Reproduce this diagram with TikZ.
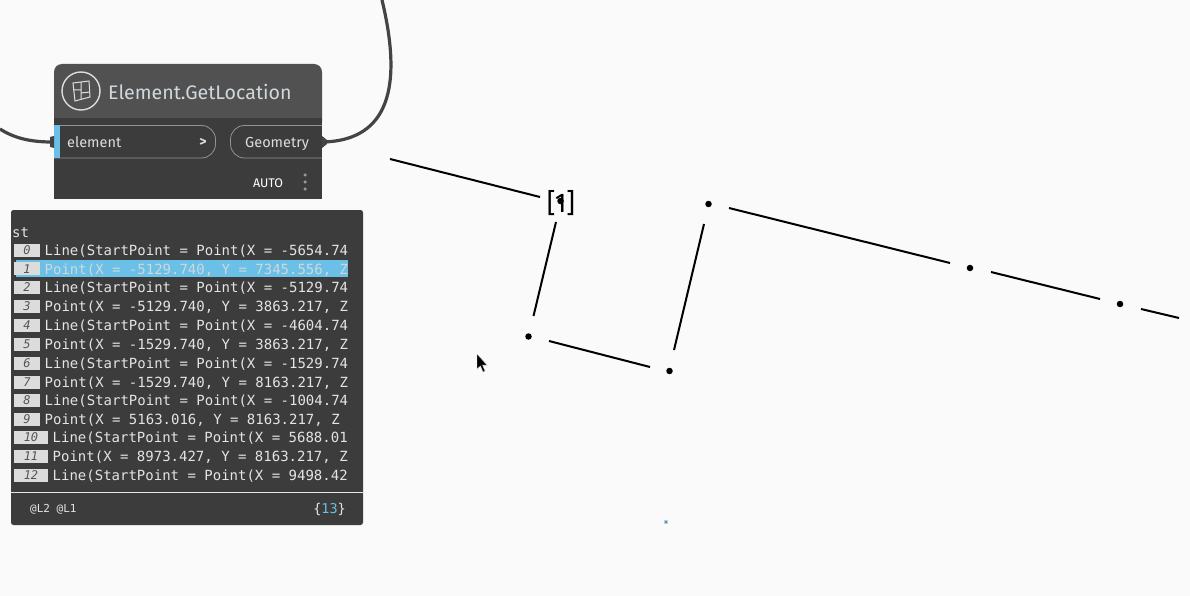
\documentclass[tikz,border=0pt]{standalone}
\usepackage{fontspec}
\setmainfont{Fira Sans}
\newfontfamily\monof{DejaVu Sans Mono}
\usetikzlibrary{calc}
\definecolor{bgc}{HTML}{FAFAFA}
\definecolor{nodebody}{HTML}{3C3C3C}
\definecolor{nodehead}{HTML}{515151}
\definecolor{wirec}{HTML}{444444}
\definecolor{portblue}{HTML}{6AC0E7}
\definecolor{porttext}{HTML}{DDDDDD}
\definecolor{titletext}{HTML}{D0D8DC}
\definecolor{rowtext}{HTML}{E4E4E4}
\definecolor{idxbox}{HTML}{DCDCDC}
\definecolor{idxtext}{HTML}{555555}
\tikzset{
  x=1pt,y=-1pt,
  wire/.style={draw=wirec,line width=3.2pt},
  geo/.style={draw=black,line width=2pt},
  dot/.style={circle,fill=black,inner sep=0pt,minimum size=6.5pt},
  rowt/.style={anchor=west,inner sep=0pt,text=rowtext,font=\monof\fontsize{14}{14}\selectfont},
  idx/.style={anchor=center,inner sep=0pt,text=idxtext,font=\monof\itshape\fontsize{12}{12}\selectfont},
  port/.style={draw=gray!85,line width=0.8pt,rounded corners=14pt},
  ptxt/.style={anchor=base west,inner sep=0pt,text=porttext,font=\fontsize{14.5}{14.5}\selectfont},
}
\begin{document}
\begin{tikzpicture}
\useasboundingbox (0,0) rectangle (1190,596);
\fill[bgc] (0,0) rectangle (1190,596);
% node body
\fill[nodebody] (54,198.5) -- (322,198.5) -- (322,110) -- (54,110) -- cycle;
\fill[nodehead,rounded corners=8pt] (54,130) -- (54,64) -- (322,64) -- (322,130) -- cycle;
\fill[nodebody] (54,118) rectangle (322,135);
% icon
\node[circle,draw=porttext,line width=1.4pt,minimum size=38pt,inner sep=0pt] (icon) at (81,91) {};
\draw[porttext,line width=1pt] (73,83) -- (89,81) -- (90,97) -- (75,101) -- cycle (81,82) -- (81,99) (73,90) -- (81,90) (81,93) -- (90,92);
\node[anchor=west,inner sep=0pt,text=titletext,font=\fontsize{19.6}{19.6}\selectfont] (title) at (108,92) {Element.GetLocation};
% ports
\draw[port] (54,125.5) -- (215.5,125.5) -- (215.5,158) -- (54,158);
\fill[portblue] (54,125.5) rectangle (60,158);
\node[ptxt] (inp) at (67,147.5) {element};
\node[anchor=center,inner sep=0pt,text=porttext,font=\bfseries\fontsize{14}{14}\selectfont] (chev) at (203,142) {>};
\draw[port] (322,125.5) -- (230.5,125.5) -- (230.5,158) -- (322,158);
\node[ptxt] (outp) at (245,147.5) {Geometry};
\node[anchor=center,inner sep=0pt,text=white,font=\fontsize{12.5}{12.5}\selectfont] (auto) at (268,183) {AUTO};
\foreach \yy [count=\i] in {175,182,189}{\node[circle,fill=gray!80,inner sep=0pt,minimum size=3.5pt] (d\i) at (305,\yy) {};}
% wires
\coordinate (wl) at (0,129);
\coordinate (wr) at (382,0);
\coordinate (pl) at (52,142);
\coordinate (pr) at (324,142);
\draw[wire] (wl) .. controls (14,138) and (30,142) .. (pl);
\draw[wire] (pr) .. controls (380,140) and (406,100) .. (wr);
\fill[wirec] (50,137) -- (54,136) -- (54,148) -- (50,147) -- cycle;
\fill[wirec] (322,136) -- (327,140) -- (327,144) -- (322,148) -- cycle;
% watch panel
\fill[nodebody,rounded corners=2.5pt] (11,210) rectangle (363,525);
\node[rowt] (hdr) at (12,233) {st};
\fill[portblue] (16,260) rectangle (348,277);
\foreach \n/\yy/\w/\tx in {
0/250/40/{Line(StartPoint = Point(X = -5654.74},
2/287/40/{Line(StartPoint = Point(X = -5129.74},
3/306/40/{Point(X = -5129.740, Y = 3863.217, Z},
4/325/40/{Line(StartPoint = Point(X = -4604.74},
5/344/40/{Point(X = -1529.740, Y = 3863.217, Z},
6/363/40/{Line(StartPoint = Point(X = -1529.74},
7/382/40/{Point(X = -1529.740, Y = 8163.217, Z},
8/400/40/{Line(StartPoint = Point(X = -1004.74},
9/419/40/{Point(X = 5163.016, Y = 8163.217, Z},
10/437/48/{Line(StartPoint = Point(X = 5688.01},
11/456/48/{Point(X = 8973.427, Y = 8163.217, Z},
12/475/48/{Line(StartPoint = Point(X = 9498.42}}{
  \fill[idxbox] (14,\yy-6.5) rectangle (\w,\yy+6.5);
  \node[idx] (i\n) at ({(14+\w)/2},\yy) {\n};
  \node[rowt] (r\n) at (\w+4.5,\yy+0.8) {\tx};
}
\fill[idxbox] (14,262) rectangle (40,275);
\node[idx] (i1) at (27,269) {1};
\node[rowt,text=titletext] (r1) at (44.5,269.8) {Point(X = -5129.740, Y = 7345.556, Z};
\draw[white!90!black,line width=1pt] (11,492.5) -- (363,492.5);
\node[anchor=west,inner sep=0pt,text=rowtext,font=\monof\fontsize{11}{11}\selectfont] (lev) at (30,509.5) {@L2 @L1};
\node[anchor=east,inner sep=0pt,text=rowtext,font=\monof\fontsize{13.5}{13.5}\selectfont] (cnt) at (346,509.5) {\{\textcolor{portblue}{13}\}};
% geometry
\draw[geo] (390,159) -- (540,197);
\draw[geo] (556,222) -- (533.5,316);
\draw[geo] (549,341) -- (650,367);
\draw[geo] (674,350) -- (704,224);
\draw[geo] (729,208) -- (950,263);
\draw[geo] (991,272) -- (1100,299);
\draw[geo] (1141,309) -- (1179,318);
\node[dot] (p1) at (560.5,201) {};
\node[dot] (p2) at (528.5,336.5) {};
\node[dot] (p3) at (669.5,371) {};
\node[dot] (p4) at (708.5,204) {};
\node[dot] (p5) at (970,268) {};
\node[dot] (p6) at (1120,304) {};
\node[anchor=center,inner sep=0pt,text=black,font=\fontsize{27}{27}\selectfont] (lbl) at (561,203) {[1]};
% cursor
\fill[black,draw=white!70!gray,line width=0.4pt] (477,354) -- (477,369) -- (480.5,366) -- (483,372) -- (485,371) -- (482.5,365) -- (487,365) -- cycle;
% tiny mark
\fill[portblue!60] (664,520) rectangle (668,524);
\fill[gray] (665.2,520.5) rectangle (666.5,523);
\end{tikzpicture}
\end{document}
